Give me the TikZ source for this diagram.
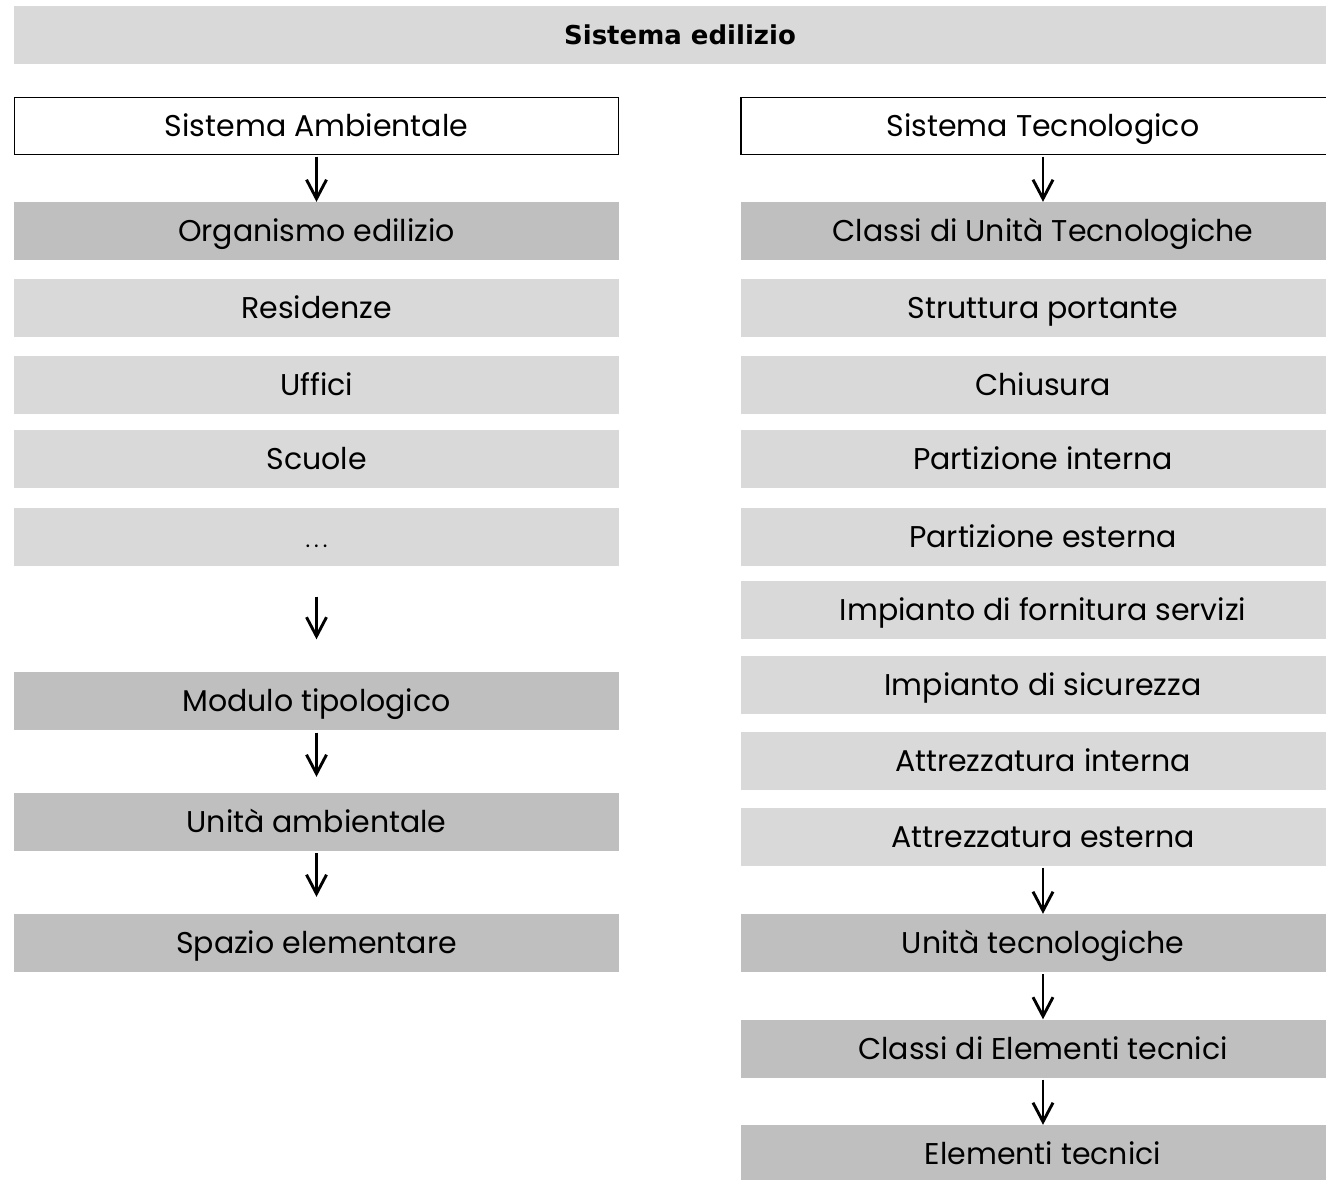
\documentclass[tikz,border=0pt]{standalone}
\usepackage{fontspec}
\setmainfont{Poppins}
\newfontfamily\titlefont{DejaVu Sans}
\usetikzlibrary{arrows.meta}
\definecolor{lightg}{HTML}{D9D9D9}
\definecolor{darkg}{HTML}{BFBFBF}
\begin{document}
\begin{tikzpicture}[x=1pt,y=-1pt,
  box/.style={rectangle,inner sep=0pt,minimum width=605pt,minimum height=58pt,
    font=\fontsize{30}{34}\selectfont,text height=21pt,text depth=0pt},
  lbox/.style={box,fill=lightg},
  dbox/.style={box,fill=darkg},
  wbox/.style={box,draw=black,line width=1.2pt,fill=white,minimum width=604pt,minimum height=57pt},
  arr/.style={-{Straight Barb[length=19pt,width=20pt,line width=2.9pt]},line width=2.9pt}]
\clip (0,0) rectangle (1326,1179);
\fill[white] (0,0) rectangle (1326,1179);
% title bar
\node[rectangle,inner sep=0pt,fill=lightg,minimum width=1332pt,minimum height=58pt,
  font=\titlefont\bfseries\fontsize{26}{30}\selectfont,text height=19pt,text depth=0pt] (top) at (680,35) {Sistema edilizio};
% left column
\node[wbox] (sa) at (316.5,126) {Sistema Ambientale};
\node[dbox] (org) at (316.5,231) {Organismo edilizio};
\node[lbox] (res) at (316.5,307.5) {Residenze};
\node[lbox] (uff) at (316.5,385) {Uffici};
\node[lbox] (scu) at (316.5,458.5) {Scuole};
\node[lbox] (dots) at (316.5,536.5) {\fontsize{22}{26}\selectfont .\hspace{4pt}.\hspace{4pt}.};
\node[dbox] (mod) at (316.5,700.5) {Modulo tipologico};
\node[dbox] (ua) at (316.5,822) {Unità ambientale};
\node[dbox] (se) at (316.5,943) {Spazio elementare};
% right column
\node[wbox] (st) at (1043,126) {Sistema Tecnologico};
\node[dbox] (cut) at (1043,231) {Classi di Unità Tecnologiche};
\node[lbox] (sp) at (1043,307.5) {Struttura portante};
\node[lbox] (ch) at (1043,385) {Chiusura};
\node[lbox] (pi) at (1043,458.5) {Partizione interna};
\node[lbox] (pe) at (1043,536.5) {Partizione esterna};
\node[lbox] (ifs) at (1043,609.5) {Impianto di fornitura servizi};
\node[lbox] (isc) at (1043,685) {Impianto di sicurezza};
\node[lbox] (ai) at (1043,761) {Attrezzatura interna};
\node[lbox] (ae) at (1043,836.5) {Attrezzatura esterna};
\node[dbox] (ut) at (1043,943) {Unità tecnologiche};
\node[dbox] (cet) at (1043,1048.5) {Classi di Elementi tecnici};
\node[dbox] (et) at (1043,1154) {Elementi tecnici};
% arrows
\draw[arr,shorten <=1.5pt] (sa) -- (org);
\draw[arr,shorten <=31pt,shorten >=32pt] (dots) -- (mod);
\draw[arr,shorten <=3pt,shorten >=16pt] (mod) -- (ua);
\draw[arr,shorten <=2pt,shorten >=17pt] (ua) -- (se);
\draw[arr,shorten <=1.5pt] (st) -- (cut);
\draw[arr,shorten <=2pt] (ae) -- (ut);
\draw[arr,shorten <=2pt] (ut) -- (cet);
\draw[arr,shorten <=2pt] (cet) -- (et);
\end{tikzpicture}
\end{document}
